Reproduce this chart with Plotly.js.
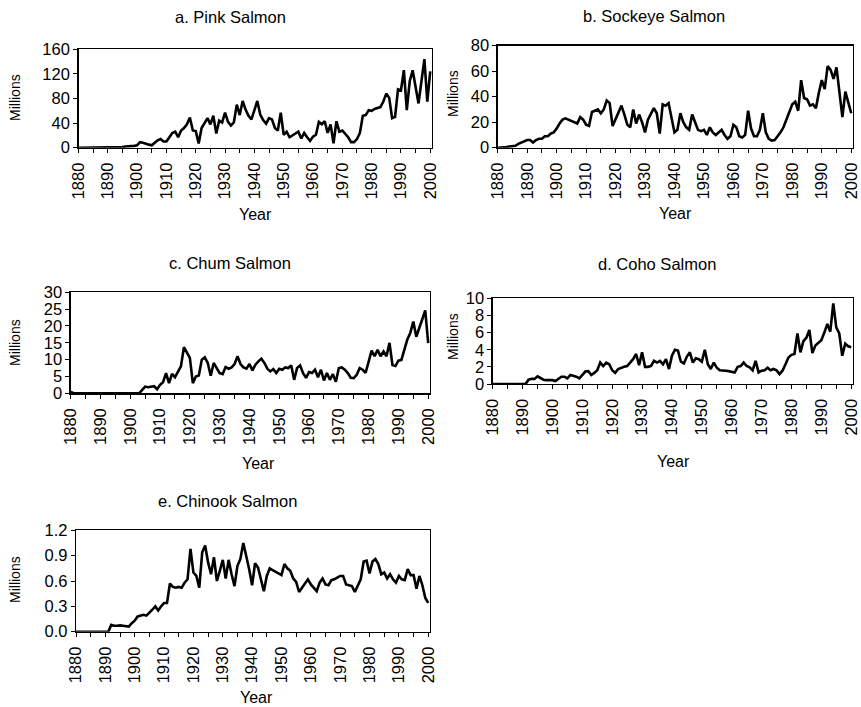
<!DOCTYPE html>
<html>
<head>
<meta charset="utf-8">
<script src="https://cdn.plot.ly/plotly-3.0.1.min.js"></script>
<style>
  html, body { margin: 0; padding: 0; background: #fff; }
  #chart { width: 861px; height: 707px; }
</style>
</head>
<body>
<div id="chart"></div>
<script>
// Annual catch by species, 1880-2000 (millions of fish)
const firstYear = 1880;
const lastYear = 2000;

const pinkSalmon = [
  0, 0, 0, 0, 0, 0, 0, 0, 0, 0,
  0, 0, 0, 0, 0, 1, 2, 2, 2, 3,
  4, 9, 8, 6, 5, 4, 8, 12, 14, 10,
  10, 17, 24, 26, 17, 28, 32, 38, 49, 28,
  27, 7, 32, 40, 48, 38, 52, 23, 44, 41,
  57, 42, 36, 41, 70, 53, 76, 62, 52, 46,
  60, 76, 54, 45, 39, 48, 46, 32, 28, 57,
  21, 26, 17, 20, 22, 26, 15, 24, 17, 11,
  18, 21, 42, 38, 43, 24, 38, 7, 43, 26,
  28, 22, 17, 9, 9, 14, 24, 52, 53, 61,
  60, 63, 64, 66, 75, 88, 81, 48, 50, 95,
  93, 126, 61, 108, 126, 100, 72, 108, 144, 75,
  124
];

const sockeyeSalmon = [
  0, 0, 0.2, 0.5, 1, 1, 1.5, 3, 4, 5.5,
  6, 6, 4, 6, 7, 7, 9, 9, 11, 12,
  15, 19, 22, 23, 22, 21, 20, 19, 24, 22,
  18, 17, 28, 29, 30, 27, 30, 37, 35, 17,
  22, 28, 33, 26, 18, 16, 30, 19, 26, 20,
  12, 22, 27, 31, 27, 11, 34, 33, 35, 23,
  12, 14, 27, 20, 16, 14, 26, 20, 14, 13,
  14, 10, 16, 12, 10, 12, 14, 10, 7, 9,
  18, 16, 9, 8, 10, 29, 15, 9, 9, 14,
  27, 12, 7, 5.5, 6, 9, 12, 16, 22, 29,
  34, 36, 29, 53, 39, 38, 33, 34, 31, 43,
  53, 46, 64, 61, 54, 63, 43, 24, 44, 35,
  27
];

const chumSalmon = [
  0.4, 0, 0, 0, 0, 0, 0, 0, 0, 0,
  0, 0, 0, 0, 0, 0, 0, 0, 0, 0,
  0, 0, 0, 0, 1, 2, 1.8, 2, 2.1, 1.2,
  2.5, 3.3, 6, 3, 5.8, 4.8, 6.5, 8, 13.7, 12.2,
  10.5, 3, 5, 5.3, 10, 10.7, 9, 5.2, 9, 7.5,
  6, 5.7, 7.8, 7.3, 7.7, 8.7, 11, 8.7, 7.7, 7.3,
  8.7, 6.8, 8.5, 9.5, 10.3, 9, 7.3, 6.5, 7.2, 6,
  7.3, 7, 7.7, 7.5, 8.3, 4, 7.5, 8.3, 6, 4.6,
  6.3, 6, 7, 4.8, 7, 3.8, 6, 4, 5.7, 3.4,
  7.5, 7.7, 7, 6, 4.6, 4.5, 5.5, 7.5, 7, 6.1,
  9.5, 12.7, 11, 12.9, 11, 12.4, 11, 15, 8.4, 8.1,
  9.7, 9.9, 13, 16, 18, 21.3, 16.8, 19.3, 21.5, 24.6,
  14.9
];

const cohoSalmon = [
  0, 0, 0, 0, 0, 0, 0, 0, 0, 0,
  0, 0, 0.5, 0.6, 0.6, 0.9, 0.7, 0.5, 0.45, 0.45,
  0.45, 0.35, 0.6, 0.85, 0.85, 0.65, 1.05, 0.95, 0.85, 0.65,
  1.1, 1.45, 1.5, 1.05, 1.3, 1.6, 2.5, 2.1, 2.5, 2.3,
  1.6, 1.3, 1.75, 1.9, 2.0, 2.1, 2.5, 2.9, 3.5, 2.2,
  3.7, 2.0, 2.0, 2.1, 2.7, 2.5, 2.7, 2.3, 2.9, 1.75,
  3.3, 4.0, 3.9, 2.6, 2.4, 3.2, 3.7, 2.5, 3.0, 2.9,
  2.6, 4.0, 2.3, 1.75, 2.5, 1.9, 1.6, 1.6, 1.55, 1.5,
  1.4, 1.35, 2.0, 2.1, 2.5, 2.1, 1.95, 1.6, 2.7, 1.35,
  1.55, 1.6, 1.9, 1.6, 1.75, 1.6, 1.15, 1.55, 2.3, 3.1,
  3.4, 3.5, 5.9, 3.7, 5.0, 5.4, 6.3, 3.6, 4.5, 4.8,
  5.1, 6.0, 7.0, 6.1, 9.4, 6.6, 5.9, 3.3, 4.7, 4.4,
  4.3
];

const chinookSalmon = [
  0, 0, 0, 0, 0, 0, 0, 0, 0, 0,
  0, 0, 0.08, 0.07, 0.07, 0.075, 0.07, 0.065, 0.06, 0.1,
  0.13, 0.18, 0.19, 0.2, 0.19, 0.22, 0.26, 0.30, 0.25, 0.30,
  0.34, 0.34, 0.57, 0.53, 0.52, 0.53, 0.52, 0.58, 0.62, 0.98,
  0.70, 0.66, 0.52, 0.94, 1.02, 0.82, 0.68, 0.88, 0.60, 0.72,
  0.85, 0.63, 0.85, 0.68, 0.54, 0.78, 0.86, 1.05, 0.91, 0.74,
  0.55, 0.81, 0.76, 0.63, 0.48, 0.66, 0.75, 0.73, 0.71, 0.70,
  0.67, 0.80, 0.75, 0.72, 0.63, 0.59, 0.47, 0.52, 0.57, 0.62,
  0.56, 0.52, 0.48, 0.58, 0.63, 0.56, 0.55, 0.61, 0.62, 0.64,
  0.66, 0.66, 0.56, 0.55, 0.54, 0.47, 0.55, 0.62, 0.83, 0.84,
  0.69, 0.83, 0.86, 0.80, 0.68, 0.70, 0.63, 0.68, 0.62, 0.58,
  0.66, 0.62, 0.61, 0.74, 0.67, 0.67, 0.51, 0.66, 0.55, 0.40,
  0.34
];

const panelTitles = ["a. Pink Salmon", "b. Sockeye Salmon", "c. Chum Salmon", "d. Coho Salmon", "e. Chinook Salmon"];
const yMax = [160, 80, 30, 10, 1.2];
const yStep = [40, 20, 5, 2, 0.3];
const yFormat = ["", "", "", "", ".1f"];

const years = [];
for (let y = firstYear; y <= lastYear; y++) years.push(y);
const series = [pinkSalmon, sockeyeSalmon, chumSalmon, cohoSalmon, chinookSalmon];

// Page geometry (pixels) for each panel's plot box
const W = 861, H = 707;
const boxes = [
  { l: 78.5, r: 432, t: 49.3, b: 147.7 },
  { l: 497.7, r: 853, t: 45.7, b: 147.7 },
  { l: 70.7, r: 430, t: 292.3, b: 393.3 },
  { l: 492.7, r: 853, t: 298.3, b: 384 },
  { l: 76, r: 430, t: 530.3, b: 631.7 }
];
// Title, "Millions" and "Year" label anchors (pixels)
const titlePos = [[230, 17], [654, 16], [230, 263], [657, 264], [227, 501]];
const millionsPos = [[15, 98], [453, 94], [15, 343], [453, 337], [15, 580]];
const yearPos = [[255, 214], [675, 213], [258, 463], [673, 461], [256, 697]];

const px = x => x / W;
const py = y => 1 - y / H;
const FONT = "Liberation Sans, Arial, sans-serif";

const traces = [];
const layout = {
  width: W, height: H,
  margin: { l: 0, r: 0, t: 0, b: 0 },
  paper_bgcolor: "#fff", plot_bgcolor: "#fff",
  showlegend: false,
  font: { family: FONT, color: "#000", size: 16 },
  annotations: []
};

series.forEach((vals, i) => {
  const n = i === 0 ? "" : String(i + 1);
  traces.push({
    x: years, y: vals, type: "scatter", mode: "lines",
    line: { color: "#000", width: 2.6 },
    xaxis: "x" + n, yaxis: "y" + n, hoverinfo: "skip"
  });
  const b = boxes[i];
  layout["xaxis" + n] = {
    domain: [px(b.l), px(b.r)], anchor: "y" + n,
    range: [1880, 2000.6], tickmode: "linear", tick0: 1880, dtick: 10,
    tickangle: -90, ticks: "outside", ticklen: 4, tickwidth: 1, tickcolor: "#000",
    ticklabeloverflow: "allow", ticklabelstandoff: 3,
    minor: { tickmode: "linear", tick0: 1880, dtick: 5, ticks: "outside", ticklen: 4, tickwidth: 1, tickcolor: "#000", showgrid: false },
    showline: true, mirror: true, linecolor: "#000", linewidth: 1.3,
    showgrid: false, zeroline: false, fixedrange: true,
    tickfont: { family: FONT, size: 16.5, color: "#000" }
  };
  layout["yaxis" + n] = {
    domain: [py(b.b), py(b.t)], anchor: "x" + n,
    range: [0, yMax[i]], tickmode: "linear", tick0: 0, dtick: yStep[i],
    tickformat: yFormat[i],
    ticks: "outside", ticklen: 4, tickwidth: 1, tickcolor: "#000",
    ticklabeloverflow: "allow",
    showline: true, mirror: true, linecolor: "#000", linewidth: 1.3,
    showgrid: false, zeroline: false, fixedrange: true,
    tickfont: { family: FONT, size: 16.5, color: "#000" }
  };
  layout.annotations.push(
    { text: panelTitles[i], xref: "paper", yref: "paper", x: px(titlePos[i][0]), y: py(titlePos[i][1]),
      xanchor: "center", yanchor: "middle", showarrow: false, font: { family: FONT, size: 16.5, color: "#000" } },
    { text: "Millions", xref: "paper", yref: "paper", x: px(millionsPos[i][0]), y: py(millionsPos[i][1]),
      xanchor: "center", yanchor: "middle", textangle: -90, showarrow: false, font: { family: FONT, size: 14, color: "#000" } },
    { text: "Year", xref: "paper", yref: "paper", x: px(yearPos[i][0]), y: py(yearPos[i][1]),
      xanchor: "center", yanchor: "middle", showarrow: false, font: { family: FONT, size: 16, color: "#000" } }
  );
});

Plotly.newPlot("chart", traces, layout, { staticPlot: true, displayModeBar: false });
</script>
</body>
</html>
